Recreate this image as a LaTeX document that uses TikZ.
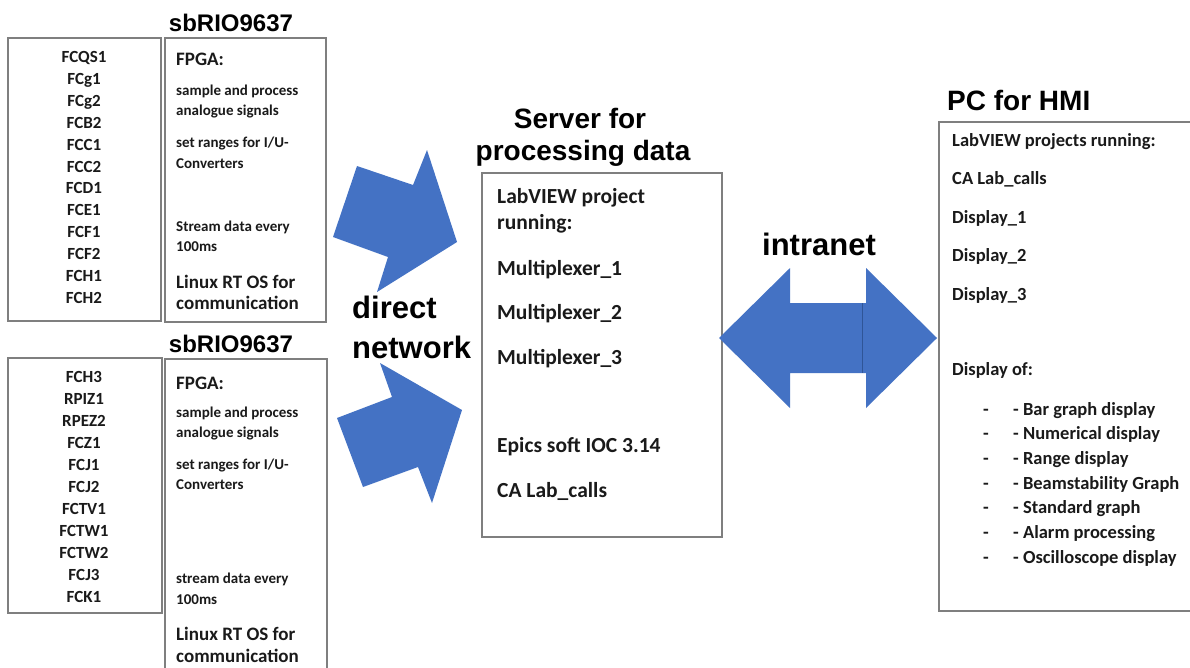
\documentclass[tikz,border=0pt]{standalone}
\usepackage{fontspec}
\setmainfont{Carlito}
\newfontfamily\arialf{Liberation Sans}
\definecolor{arrowblue}{HTML}{4472C4}
\definecolor{seamblue}{HTML}{2F5597}
\definecolor{boxgray}{HTML}{7F7F7F}
\definecolor{txt}{HTML}{1A1A1A}
\tikzset{
 box/.style={draw=boxgray, line width=1.1pt, anchor=north west, inner sep=0pt, outer sep=0pt},
 ttl/.style={font=\arialf\bfseries\fontsize{24}{28}\selectfont, inner sep=0pt, anchor=base},
 bigttl/.style={font=\arialf\bfseries\fontsize{28}{32}\selectfont, inner sep=0pt, anchor=base},
 netlbl/.style={font=\arialf\bfseries\fontsize{31}{35}\selectfont, inner sep=0pt, anchor=base west},
 lst/.style={font=\bfseries\fontsize{17}{20}\selectfont, text=txt, inner sep=0pt, anchor=base},
 smalltxt/.style={font=\bfseries\fontsize{15}{18}\selectfont, text=txt, inner sep=0pt, anchor=base west},
 midtxt/.style={font=\bfseries\fontsize{19}{22}\selectfont, text=txt, inner sep=0pt, anchor=base west},
 srvtxt/.style={font=\bfseries\fontsize{21.5}{25}\selectfont, text=txt, inner sep=0pt, anchor=base west},
 pctxt/.style={font=\bfseries\fontsize{18.5}{22}\selectfont, text=txt, inner sep=0pt, anchor=base west},
 bigarrow/.style={fill=arrowblue, draw=none},
}
\begin{document}
\begin{tikzpicture}[x=1pt,y=-1pt]
\clip (0,0) rectangle (1190,667);
\fill[white] (0,0) rectangle (1190,667);

% boxes
\node[box, minimum width=153, minimum height=283] (list1) at (8,38) {};
\node[box, minimum width=161, minimum height=284] (fpga1) at (165,38) {};
\node[box, minimum width=154, minimum height=255] (list2) at (8,358) {};
\node[box, minimum width=162, minimum height=321] (fpga2) at (165,359) {};
\node[box, minimum width=240, minimum height=364] (server) at (482,173) {};
\node[box, minimum width=270, minimum height=489] (pc) at (939,122) {};

% titles
\node[ttl] (t1) at (231,31.7) {sbRIO9637};
\node[ttl] (t2) at (231,352) {sbRIO9637};
\node[bigttl] (ts1) at (580,128.3) {Server for};
\node[bigttl] (ts2) at (583,160) {processing data};
\node[bigttl, anchor=base west] (tpc) at (947,110) {PC for HMI};
\node[netlbl] (dn1) at (352,318) {direct};
\node[netlbl] (dn2) at (352,358) {network};
\node[netlbl, anchor=base] (intra) at (819,255.7) {intranet};

% lists
\foreach \t [count=\i from 0] in {FCQS1,FCg1,FCg2,FCB2,FCC1,FCC2,FCD1,FCE1,FCF1,FCF2,FCH1,FCH2}
  \node[lst] (la\i) at (84,62.5+21.9*\i) {\t};
\foreach \t [count=\i from 0] in {FCH3,RPIZ1,RPEZ2,FCZ1,FCJ1,FCJ2,FCTV1,FCTW1,FCTW2,FCJ3,FCK1}
  \node[lst] (lb\i) at (84,382.5+22*\i) {\t};

% FPGA box 1
\node[midtxt] (f1a) at (176,65.5) {FPGA:};
\node[smalltxt] (f1b) at (176,95.5) {sample and process};
\node[smalltxt] (f1c) at (176,115.5) {analogue signals};
\node[smalltxt] (f1d) at (176,147.5) {set ranges for I/U-};
\node[smalltxt] (f1e) at (176,168) {Converters};
\node[smalltxt] (f1f) at (176,231.5) {Stream data every};
\node[smalltxt] (f1g) at (176,251.5) {100ms};
\node[midtxt] (f1h) at (176,288) {Linux RT OS for};
\node[midtxt] (f1i) at (176,309.5) {communication};

% FPGA box 2
\node[midtxt] (f2a) at (176,389.5) {FPGA:};
\node[smalltxt] (f2b) at (176,417.5) {sample and process};
\node[smalltxt] (f2c) at (176,437) {analogue signals};
\node[smalltxt] (f2d) at (176,469.5) {set ranges for I/U-};
\node[smalltxt] (f2e) at (176,489) {Converters};
\node[smalltxt] (f2f) at (176,583.5) {stream data every};
\node[smalltxt] (f2g) at (176,604) {100ms};
\node[midtxt] (f2h) at (176,640) {Linux RT OS for};
\node[midtxt] (f2i) at (176,662.5) {communication};

% server
\node[srvtxt] (s1) at (497,203) {LabVIEW project};
\node[srvtxt] (s2) at (497,229.5) {running:};
\node[srvtxt] (s3) at (497,275) {Multiplexer\_1};
\node[srvtxt] (s4) at (497,319) {Multiplexer\_2};
\node[srvtxt] (s5) at (497,364) {Multiplexer\_3};
\node[srvtxt] (s6) at (497,452) {Epics soft IOC 3.14};
\node[srvtxt] (s7) at (497,497) {CA Lab\_calls};

% PC
\node[pctxt] (p1) at (952,146.7) {LabVIEW projects running:};
\node[pctxt] (p2) at (952,184.3) {CA Lab\_calls};
\node[pctxt] (p3) at (952,223.3) {Display\_1};
\node[pctxt] (p4) at (952,261.7) {Display\_2};
\node[pctxt] (p5) at (952,300) {Display\_3};
\node[pctxt] (p6) at (952,375.7) {Display of:};
\foreach \t [count=\i from 0] in {Bar graph display,Numerical display,Range display,Beamstability Graph,Standard graph,Alarm processing,Oscilloscope display}{
  \node[pctxt] (pd\i) at (983,415+24.72*\i) {-};
  \node[pctxt] (pi\i) at (1013,415+24.72*\i) {- \t};
}

% arrows
\fill[bigarrow] (357,166) -- (413,185) -- (427,150) -- (457,242) -- (377,292) -- (388,257) -- (333,237) -- cycle;
\fill[bigarrow] (337,418) -- (392,397) -- (380,363) -- (462,410) -- (432,503) -- (418,467) -- (363,487) -- cycle;
\fill[bigarrow] (719,338) -- (790,268) -- (790,303) -- (866,303) -- (866,268) -- (937,338) -- (866,408) -- (866,373) -- (790,373) -- (790,408) -- cycle;
\draw[seamblue, line width=0.7pt] (862,303) -- (862,373);
\end{tikzpicture}
\end{document}
